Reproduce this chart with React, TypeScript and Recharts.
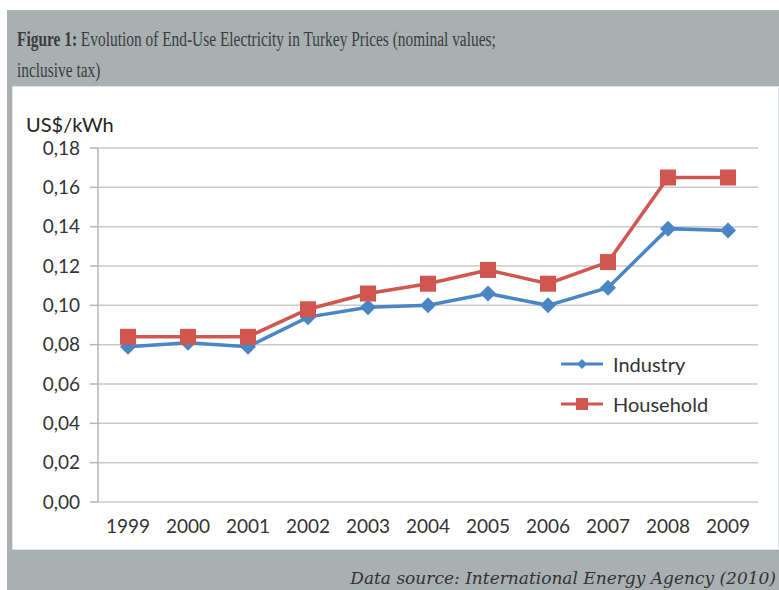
import { CartesianGrid, Line, LineChart, XAxis, YAxis } from "recharts";

const YEARS = ["1999", "2000", "2001", "2002", "2003", "2004", "2005", "2006", "2007", "2008", "2009"];
const INDUSTRY = [0.079, 0.081, 0.079, 0.094, 0.099, 0.1, 0.106, 0.1, 0.109, 0.139, 0.138];
const HOUSEHOLD = [0.084, 0.084, 0.084, 0.098, 0.106, 0.111, 0.118, 0.111, 0.122, 0.165, 0.165];
const Y_TICKS = [0, 0.02, 0.04, 0.06, 0.08, 0.1, 0.12, 0.14, 0.16, 0.18];

const BLUE = "#4a86c5";
const RED = "#d0564f";

// category boundaries for the small x-axis tick marks
const BOUNDS = YEARS.map((_, i) => i - 0.5).concat([YEARS.length - 0.5]);
const CENTERS = YEARS.map((_, i) => i);

const rows = YEARS.map((y, i) => ({ idx: i, year: y, industry: INDUSTRY[i], household: HOUSEHOLD[i] }));

const tickFont = { fontFamily: "Lato, 'Open Sans', sans-serif", fontSize: 19, fill: "#333" };

function Diamond(props: any) {
  const { cx, cy, size = 7, fill } = props;
  if (cx == null || cy == null) return null;
  return <path d={`M${cx},${cy - size}L${cx + size},${cy}L${cx},${cy + size}L${cx - size},${cy}Z`} fill={fill} />;
}

function Square(props: any) {
  const { cx, cy, size = 8, fill } = props;
  if (cx == null || cy == null) return null;
  return <rect x={cx - size} y={cy - size} width={size * 2} height={size * 2} fill={fill} />;
}

function LegendBox() {
  const items = [
    { label: "Industry", color: BLUE, kind: "d" },
    { label: "Household", color: RED, kind: "s" },
  ];
  return (
    <div>
      {items.map((it) => (
        <div key={it.label} style={{ display: "flex", alignItems: "center", height: 40 }}>
          <svg width={44} height={20} style={{ marginRight: 8 }}>
            <line x1={0} y1={10} x2={42} y2={10} stroke={it.color} strokeWidth={3} />
            {it.kind === "d" ? (
              <Diamond cx={21} cy={10} size={5} fill={it.color} />
            ) : (
              <Square cx={21} cy={10} size={6} fill={it.color} />
            )}
          </svg>
          <span style={{ fontFamily: "Lato, 'DejaVu Sans', sans-serif", fontSize: 20, color: "#333" }}>{it.label}</span>
        </div>
      ))}
    </div>
  );
}

export default function App() {
  return (
    <div style={{ position: "absolute", left: 0, top: 0, width: 779, height: 590, background: "#fff", overflow: "hidden" }}>
      <div style={{ position: "absolute", left: 7, top: 10, width: 772, height: 580, background: "#a9b0b2" }} />
      <div
        style={{
          position: "absolute",
          left: 17,
          top: 24,
          width: 900,
          fontFamily: "'Liberation Serif', serif",
          fontSize: 20,
          lineHeight: "31px",
          color: "#3a3d3e",
          transform: "scaleX(0.77)",
          transformOrigin: "0 0",
          whiteSpace: "nowrap",
        }}
      >
        <b>Figure 1:</b> Evolution of End-Use Electricity in Turkey Prices (nominal values;
        <br />
        inclusive tax)
      </div>
      <div
        style={{
          position: "absolute",
          left: 12,
          top: 86,
          width: 765,
          height: 462,
          background: "#fff",
          border: "1px solid #dfe2e2",
        }}
      >
        <div
          style={{
            position: "absolute",
            left: 13,
            top: 25,
            fontFamily: "Lato, 'Open Sans', sans-serif",
            fontSize: 20,
            color: "#222",
          }}
        >
          US$/kWh
        </div>
        <LineChart width={765} height={462} data={rows} margin={{ top: 61, right: 20, bottom: 14, left: 0 }}>
          <CartesianGrid horizontal vertical={false} stroke="#c9c9c9" strokeWidth={1.5} />
          <XAxis
            xAxisId="lab"
            dataKey="idx"
            type="number"
            domain={[-0.5, YEARS.length - 0.5]}
            ticks={CENTERS}
            interval={0}
            tickFormatter={(v: number) => YEARS[v]}
            axisLine={false}
            tickLine={false}
            tick={tickFont}
            tickMargin={12}
            height={33}
          />
          <XAxis
            xAxisId="bnd"
            dataKey="idx"
            type="number"
            domain={[-0.5, YEARS.length - 0.5]}
            ticks={BOUNDS}
            interval={0}
            tick={false}
            tickSize={6}
            axisLine={{ stroke: "#b5b5b5", strokeWidth: 1.5 }}
            tickLine={{ stroke: "#b5b5b5", strokeWidth: 1.5 }}
            height={0}
          />
          <YAxis
            domain={[0, 0.18]}
            ticks={Y_TICKS}
            interval={0}
            tickFormatter={(v: number) => v.toFixed(2).replace(".", ",")}
            tick={tickFont}
            tickSize={8}
            tickMargin={10}
            axisLine={{ stroke: "#b5b5b5", strokeWidth: 1.5 }}
            tickLine={{ stroke: "#b5b5b5", strokeWidth: 1.5 }}
            width={85}
          />
          <Line
            xAxisId="lab"
            dataKey="industry"
            name="Industry"
            stroke={BLUE}
            strokeWidth={3.5}
            dot={(p: any) => <Diamond key={`d${p.index}`} cx={p.cx} cy={p.cy} size={8} fill={BLUE} />}
            isAnimationActive={false}
          />
          <Line
            xAxisId="lab"
            dataKey="household"
            name="Household"
            stroke={RED}
            strokeWidth={3.5}
            dot={(p: any) => <Square key={`s${p.index}`} cx={p.cx} cy={p.cy} size={8} fill={RED} />}
            isAnimationActive={false}
          />
        </LineChart>
        <div style={{ position: "absolute", left: 548, top: 257 }}>
          <LegendBox />
        </div>
      </div>
      <div
        style={{
          position: "absolute",
          right: 3,
          top: 568,
          fontFamily: "'DejaVu Serif', serif",
          fontStyle: "italic",
          fontSize: 17,
          color: "#333",
          whiteSpace: "nowrap",
        }}
      >
        Data source: International Energy Agency (2010)
      </div>
    </div>
  );
}
